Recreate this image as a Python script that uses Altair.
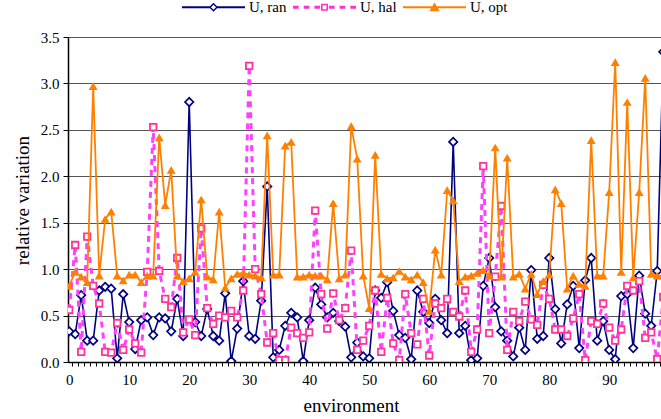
import altair as alt
import pandas as pd

series_names = ["U, ran", "U, hal", "U, opt"]
env = list(range(100))

u_ran = [0.33, 0.30, 0.72, 0.23, 0.23, 0.77, 0.81, 0.79, 0.04, 0.73,
         0.43, 0.14, 0.45, 0.48, 0.29, 0.48, 0.47, 0.33, 0.68, 0.28,
         2.80, 0.43, 0.28, 0.57, 0.28, 0.23, 0.74, 0.01, 0.36, 0.87,
         0.28, 0.25, 0.66, 1.89, 0.05, 0.13, 0.39, 0.53, 0.48, 0.01,
         0.45, 0.80, 0.62, 0.48, 0.53, 0.44, 0.38, 0.05, 0.21, 0.06,
         0.04, 0.77, 0.69, 0.86, 0.55, 0.29, 0.26, 0.03, 0.77, 0.54,
         0.42, 0.68, 0.45, 0.31, 2.37, 0.31, 0.39, 0.02, 0.04, 0.82,
         1.12, 0.59, 0.33, 0.23, 0.06, 0.37, 0.13, 0.99, 0.25, 0.28,
         1.12, 0.57, 0.20, 0.62, 0.82, 0.15, 0.88, 1.12, 0.23, 0.44,
         0.13, 0.03, 0.71, 0.73, 0.15, 0.93, 0.52, 0.39, 0.98, 3.34]

u_hal = [0.56, 1.26, 0.11, 1.35, 0.82, 0.63, 0.11, 0.10, 0.42, 0.13,
         0.35, 0.20, 0.10, 0.97, 2.53, 0.98, 0.68, 0.59, 1.12, 0.32,
         0.46, 0.29, 1.44, 0.58, 0.41, 0.50, 0.48, 0.55, 0.48, 0.77,
         3.19, 1.00, 0.73, 0.21, 0.31, 0.02, 0.02, 0.37, 0.31, 0.26,
         0.32, 1.63, 0.73, 0.36, 0.74, 0.45, 0.58, 1.20, 0.13, 0.23,
         0.39, 0.77, 0.11, 0.69, 0.20, 0.02, 0.73, 0.31, 0.19, 0.68,
         0.07, 0.63, 0.58, 0.68, 0.54, 0.49, 0.77, 0.11, 0.35, 2.11,
         0.31, 0.92, 1.68, 0.13, 0.54, 0.44, 0.65, 0.46, 0.40, 0.83,
         0.68, 0.35, 0.35, 0.28, 0.47, 0.73, 0.02, 0.44, 0.41, 0.63,
         0.37, 0.23, 0.35, 0.82, 0.77, 0.87, 0.26, 0.32, 0.03, 0.70]

u_opt = [0.82, 0.97, 0.92, 0.86, 2.97, 0.93, 1.54, 1.62, 0.93, 0.88,
         0.94, 0.94, 0.86, 0.93, 0.93, 2.42, 1.69, 2.07, 0.93, 0.87,
         0.90, 0.97, 1.75, 0.92, 0.89, 1.62, 0.80, 0.90, 0.95, 0.96,
         0.94, 0.93, 0.91, 2.44, 0.94, 0.94, 2.33, 2.37, 0.92, 0.92,
         0.94, 0.93, 0.93, 0.89, 1.71, 0.90, 0.94, 2.54, 2.19, 0.93,
         0.58, 2.23, 0.95, 0.90, 0.91, 0.98, 0.92, 0.89, 0.94, 0.86,
         0.55, 1.21, 0.94, 1.85, 1.74, 0.87, 0.92, 0.93, 0.96, 0.99,
         0.93, 2.31, 0.92, 2.20, 0.92, 0.95, 0.79, 0.95, 0.73, 0.87,
         0.94, 1.86, 1.71, 0.79, 0.93, 0.84, 0.82, 2.39, 0.93, 0.93,
         1.83, 3.23, 0.97, 2.80, 0.91, 1.83, 3.06, 0.95, 0.93, 0.93]

x_labels = [0, 10, 20, 30, 40, 50, 60, 70, 80, 90]
x_minor = [i - 0.5 for i in range(0, 101)]
y_ticks = [0.0, 0.5, 1.0, 1.5, 2.0, 2.5, 3.0, 3.5]

df = pd.DataFrame({
    "env": env * 3,
    "value": u_ran + u_hal + u_opt,
    "series": [series_names[0]] * 100 + [series_names[1]] * 100 + [series_names[2]] * 100,
})

FONT = "Liberation Serif"
NAVY = "#000080"
MAGENTA = "#ff40ff"
ROSE = "#ff3399"
ORANGE = "#ff8000"

xscale = alt.Scale(domain=[-0.2, 98.63], nice=False, zero=False)
yscale = alt.Scale(domain=[0, 3.5], nice=False, zero=True)

# legend symbols: line sample + marker, drawn as filled paths (unit square)
path_ran = ("M-1,-0.03H-0.1V0.03H-1Z M0.1,-0.03H1V0.03H0.1Z "
            "M0,-0.143L0.143,0L0,0.143L-0.143,0Z M0,-0.08L-0.08,0L0,0.08L0.08,0Z")
path_hal = ("M-1,-0.045H-0.82V0.045H-1Z M-0.66,-0.045H-0.48V0.045H-0.66Z "
            "M-0.32,-0.045H-0.14V0.045H-0.32Z M0.14,-0.045H0.32V0.045H0.14Z "
            "M0.48,-0.045H0.66V0.045H0.48Z M0.82,-0.045H1V0.045H0.82Z "
            "M-0.111,-0.111H0.111V0.111H-0.111Z M-0.06,-0.06V0.06H0.06V-0.06Z")
path_opt = "M-1,-0.03H1V0.03H-1Z M0,-0.15L0.165,0.13L-0.165,0.13Z"

legend = alt.Legend(
    orient="none", legendX=114, legendY=-61.5, direction="horizontal",
    title=None, symbolSize=3969, symbolStrokeWidth=0, symbolOpacity=1,
    labelFont=FONT, labelFontSize=15, labelColor="black", labelOffset=4,
    columnPadding=6, padding=0, labelLimit=0,
)

y_axis = alt.Axis(values=y_ticks, format=".1f", grid=True, gridColor="#555555",
                  gridWidth=1, domainColor="black", domainWidth=1.5, tickColor="black",
                  tickSize=5, labelFontSize=15, labelFont=FONT, labelColor="black",
                  labelPadding=4, title="relative variation", titleFont=FONT,
                  titleFontSize=19, titleFontWeight="normal", titleColor="black",
                  titleAngle=270, titleX=-46, titleY=163, titleAlign="center",
                  titleBaseline="middle", orient="left")
y_enc = alt.Y("value:Q", scale=yscale, axis=y_axis)

base = alt.Chart(df)
x_plain = alt.X("env:Q", scale=xscale, axis=None)

legend_layer = base.transform_filter("false").mark_point(filled=True, opacity=1).encode(
    x=alt.X("env:Q", scale=xscale,
            axis=alt.Axis(values=x_minor, labels=False, domain=False, ticks=True, orient="bottom",
                          tickSize=4, tickColor="black", tickWidth=1, grid=False, title=None)),
    y=y_enc,
    color=alt.Color("series:N", scale=alt.Scale(domain=series_names,
                                                range=[NAVY, "#ff33cc", ORANGE]), legend=legend),
    shape=alt.Shape("series:N", scale=alt.Scale(domain=series_names,
                                                range=[path_ran, path_hal, path_opt]), legend=legend),
)

ran_line = base.transform_filter(alt.datum.series == series_names[0]).mark_line(
    color=NAVY, strokeWidth=1.6, clip=True).encode(
    x=alt.X("env:Q", scale=xscale,
            axis=alt.Axis(values=x_labels, ticks=False, labelPadding=10, labelFontSize=15,
                          labelFont=FONT, labelColor="black", domain=True, domainColor="black",
                          domainWidth=1.5, grid=False, title="environment", titleFont=FONT,
                          titleFontSize=19, titleFontWeight="normal", titleColor="black",
                          titleX=283, titleY=43, titleBaseline="middle", titleAlign="center",
                          orient="bottom")),
    y=y_enc,
)
ran_pts = base.transform_filter(alt.datum.series == series_names[0]).mark_point(
    shape="diamond", filled=False, fill="white", stroke=NAVY, strokeWidth=1.7,
    size=70, opacity=1, clip=True).encode(x=x_plain, y=y_enc)

hal_line = base.transform_filter(alt.datum.series == series_names[1]).mark_line(
    color=MAGENTA, strokeWidth=3, strokeDash=[6, 5], clip=True).encode(x=x_plain, y=y_enc)
hal_pts = base.transform_filter(alt.datum.series == series_names[1]).mark_point(
    shape="square", filled=False, fill="white", stroke=ROSE, strokeWidth=1.8,
    size=42, opacity=1, clip=True).encode(x=x_plain, y=y_enc)

opt_line = base.transform_filter(alt.datum.series == series_names[2]).mark_line(
    color=ORANGE, strokeWidth=1.8, clip=True).encode(x=x_plain, y=y_enc)
opt_pts = base.transform_filter(alt.datum.series == series_names[2]).mark_point(
    shape="triangle-up", filled=True, color=ORANGE, size=80, opacity=1,
    clip=True).encode(x=x_plain, y=y_enc)

chart = alt.layer(
    legend_layer, ran_line, ran_pts, hal_line, hal_pts, opt_line, opt_pts
).resolve_axis(x="independent").properties(
    width=593, height=325,
    padding={"left": 68, "top": 37, "right": 0, "bottom": 57},
    autosize=alt.AutoSizeParams(type="none"),
    background="white",
).configure_view(stroke=None)

chart.save("out.html", embed_options={"renderer": "svg", "actions": False})
